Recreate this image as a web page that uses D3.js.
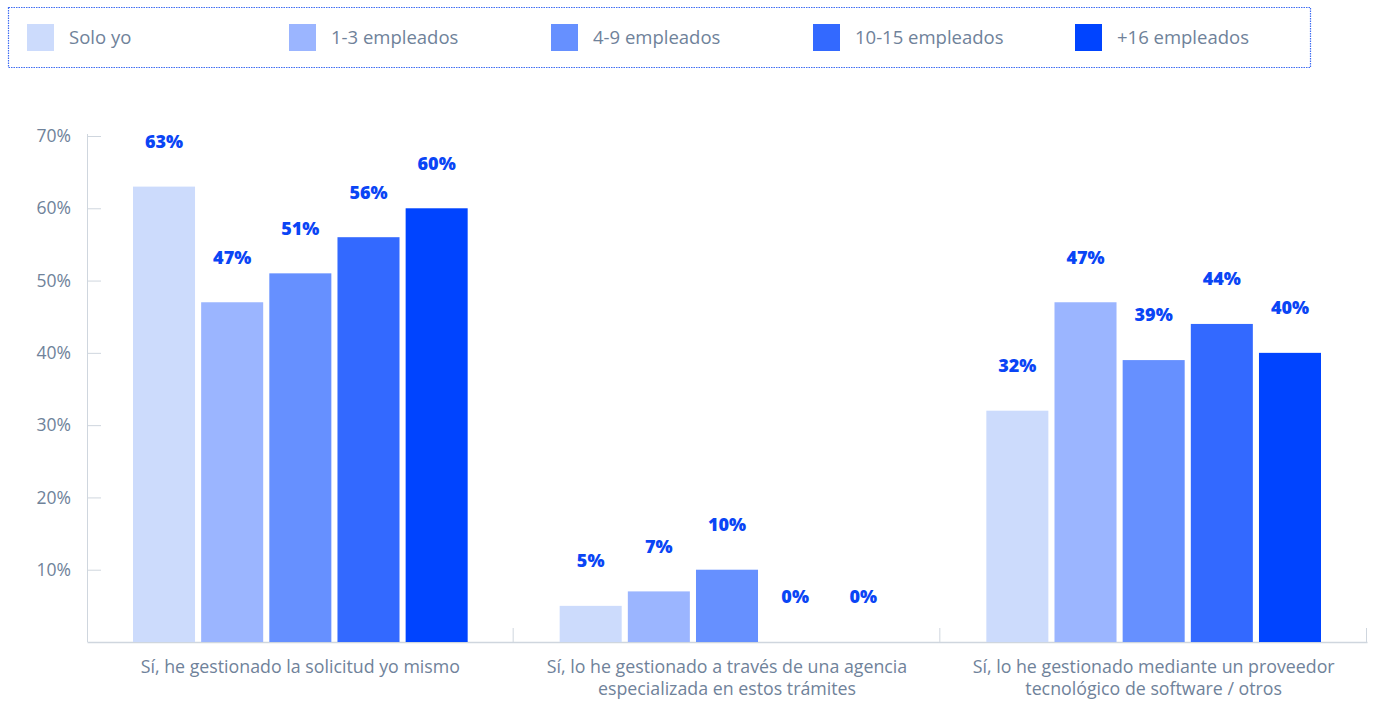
<!DOCTYPE html>
<html>
<head>
<meta charset="utf-8">
<script src="https://cdn.jsdelivr.net/npm/d3@7"></script>
<style>
  html, body { margin: 0; padding: 0; background: #fff; }
  svg { display: block; font-family: "Open Sans", "Noto Sans", sans-serif; }
</style>
</head>
<body>
<svg id="chart" width="1375" height="701"></svg>
<script>
// Survey answers (x categories), company-size groups (series) and their shares in %
const categories = [
  ["Sí, he gestionado la solicitud yo mismo"],
  ["Sí, lo he gestionado a través de una agencia", "especializada en estos trámites"],
  ["Sí, lo he gestionado mediante un proveedor", "tecnológico de software / otros"]
];
const seriesNames = ["Solo yo", "1-3 empleados", "4-9 empleados", "10-15 empleados", "+16 empleados"];
const soloYo     = [63, 5, 32];
const emp1to3    = [47, 7, 47];
const emp4to9    = [51, 10, 39];
const emp10to15  = [56, 0, 44];
const emp16plus  = [60, 0, 40];
const seriesColors = ["#ccdbfc", "#9bb5ff", "#6690ff", "#3369ff", "#0044ff"];
const yTicks = [10, 20, 30, 40, 50, 60, 70];

const seriesValues = [soloYo, emp1to3, emp4to9, emp10to15, emp16plus];

const svg = d3.select("#chart");
const plotLeft = 87, plotRight = 1367, plotTop = 136, plotBottom = 642;
const textColor = "#6f829a";
const axisColor = "#cfd6de";
const labelColor = "#0a45f5";

// Scales
const x0 = d3.scaleBand().domain(d3.range(categories.length)).range([plotLeft, plotRight]).paddingInner(0).paddingOuter(0);
const x1 = d3.scaleBand().domain(d3.range(seriesNames.length))
  .range([46, x0.bandwidth() - 46]).paddingInner(0.09).paddingOuter(0);
const y = d3.scaleLinear().domain([0, 70]).range([plotBottom, plotTop]);

// Legend box (dotted blue frame)
svg.append("rect")
  .attr("x", 8.5).attr("y", 7.5).attr("width", 1302).attr("height", 60)
  .attr("fill", "none").attr("stroke", "#3f6cf2").attr("stroke-width", 1.2)
  .attr("stroke-dasharray", "1.5 1");

const legend = svg.append("g").selectAll("g").data(seriesNames).join("g")
  .attr("transform", (d, i) => `translate(${27 + i * 262},24)`);
legend.append("rect").attr("width", 27).attr("height", 27)
  .attr("fill", (d, i) => seriesColors[i]);
legend.append("text").attr("x", 42).attr("y", 14).attr("dy", "0.35em")
  .attr("fill", textColor).attr("font-size", 18.5).text(d => d);

// Y axis
const yAxis = d3.axisRight(y).tickValues(yTicks).tickSize(14).tickFormat(() => "");
const gy = svg.append("g").attr("transform", `translate(${plotLeft},0)`).call(yAxis);
gy.select(".domain").attr("stroke", axisColor).attr("d", `M0.5,${plotTop - 2}V${plotBottom}`);
gy.selectAll(".tick line").attr("stroke", axisColor);
svg.append("g").selectAll("text").data(yTicks).join("text")
  .attr("x", 71).attr("y", d => y(d)).attr("dy", "0.35em")
  .attr("text-anchor", "end").attr("fill", textColor).attr("font-size", 17.5)
  .text(d => d + "%");

// X axis baseline and category separators
const gx = svg.append("g").attr("transform", `translate(0,${plotBottom})`)
  .call(d3.axisBottom(x0).tickSize(0).tickFormat(() => ""));
gx.select(".domain").attr("stroke", axisColor).attr("stroke-width", 1.5);
const seps = d3.range(1, categories.length + 1).map(i => plotLeft + i * x0.bandwidth());
svg.append("g").selectAll("line").data(seps).join("line")
  .attr("x1", d => d - 0.5).attr("x2", d => d - 0.5)
  .attr("y1", plotBottom - 14).attr("y2", plotBottom)
  .attr("stroke", axisColor);

// Category labels
const catLabels = svg.append("g").selectAll("text").data(categories).join("text")
  .attr("x", (d, i) => x0(i) + x0.bandwidth() / 2)
  .attr("y", 667).attr("text-anchor", "middle")
  .attr("fill", textColor).attr("font-size", 17.8);
catLabels.selectAll("tspan").data(d => d).join("tspan")
  .attr("x", function () { return this.parentNode.getAttribute("x"); })
  .attr("dy", (d, j) => j === 0 ? "0.35em" : "1.25em")
  .text(d => d);

// Bars and value labels
const groups = svg.append("g").selectAll("g").data(categories).join("g")
  .attr("transform", (d, i) => `translate(${x0(i)},0)`);
const cells = groups.selectAll("g").data((d, i) => seriesValues.map((s, k) => ({ k, v: s[i] }))).join("g");
cells.append("rect")
  .attr("x", d => x1(d.k)).attr("width", x1.bandwidth())
  .attr("y", d => y(d.v)).attr("height", d => plotBottom - y(d.v))
  .attr("fill", d => seriesColors[d.k]);
cells.append("text")
  .attr("x", d => x1(d.k) + x1.bandwidth() / 2)
  .attr("y", d => y(d.v) - 45).attr("dy", "0.35em")
  .attr("text-anchor", "middle").attr("fill", labelColor)
  .attr("font-size", 18).attr("font-weight", 800)
  .text(d => d.v + "%");
</script>
</body>
</html>
